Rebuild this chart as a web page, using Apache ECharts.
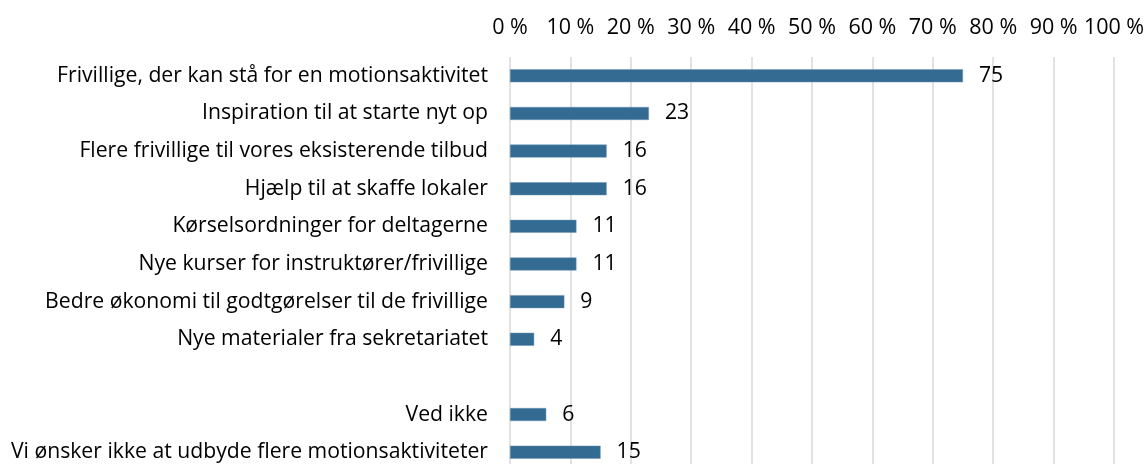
<!DOCTYPE html>
<html>
<head>
<meta charset="utf-8">
<script src="https://cdn.jsdelivr.net/npm/echarts@6/dist/echarts.min.js"></script>
<style>
  html, body { margin: 0; padding: 0; background: #fff; }
  #chart { width: 1145px; height: 464px; }
</style>
</head>
<body>
<div id="chart"></div>
<script>
var categories = [
  'Frivillige, der kan stå for en motionsaktivitet',
  'Inspiration til at starte nyt op',
  'Flere frivillige til vores eksisterende tilbud',
  'Hjælp til at skaffe lokaler',
  'Kørselsordninger for deltagerne',
  'Nye kurser for instruktører/frivillige',
  'Bedre økonomi til godtgørelser til de frivillige',
  'Nye materialer fra sekretariatet',
  '',
  'Ved ikke',
  'Vi ønsker ikke at udbyde flere motionsaktiviteter'
];
var values = [75, 23, 16, 16, 11, 11, 9, 4, null, 6, 15];

var FONT = '"Open Sans", sans-serif';

var chart = echarts.init(document.getElementById('chart'));
var option = {
  animation: false,
  backgroundColor: '#ffffff',
  grid: {
    left: 510,
    right: 31,
    top: 57,
    height: 414,
    outerBoundsMode: 'none',
    containLabel: false
  },
  xAxis: {
    type: 'value',
    position: 'top',
    min: 0,
    max: 100,
    interval: 10,
    axisLine: { show: false },
    axisTick: { show: false },
    axisLabel: {
      formatter: '{value} %',
      color: '#000',
      fontSize: 21.5,
      fontFamily: FONT,
      margin: 18
    },
    splitLine: { lineStyle: { color: '#d9d9d9', width: 1.5 } }
  },
  yAxis: {
    type: 'category',
    inverse: true,
    data: categories,
    axisLine: { show: false },
    axisTick: { show: false },
    axisLabel: {
      color: '#000',
      fontSize: 21.2,
      fontFamily: FONT,
      margin: 22
    }
  },
  series: [{
    type: 'bar',
    data: values,
    barWidth: 13,
    itemStyle: {
      color: '#336b93',
      borderColor: '#6f97b5',
      borderWidth: 0.5
    },
    label: {
      show: true,
      position: 'right',
      distance: 16,
      color: '#000',
      fontSize: 21.2,
      fontFamily: FONT
    }
  }]
};
chart.setOption(option);
</script>
</body>
</html>
